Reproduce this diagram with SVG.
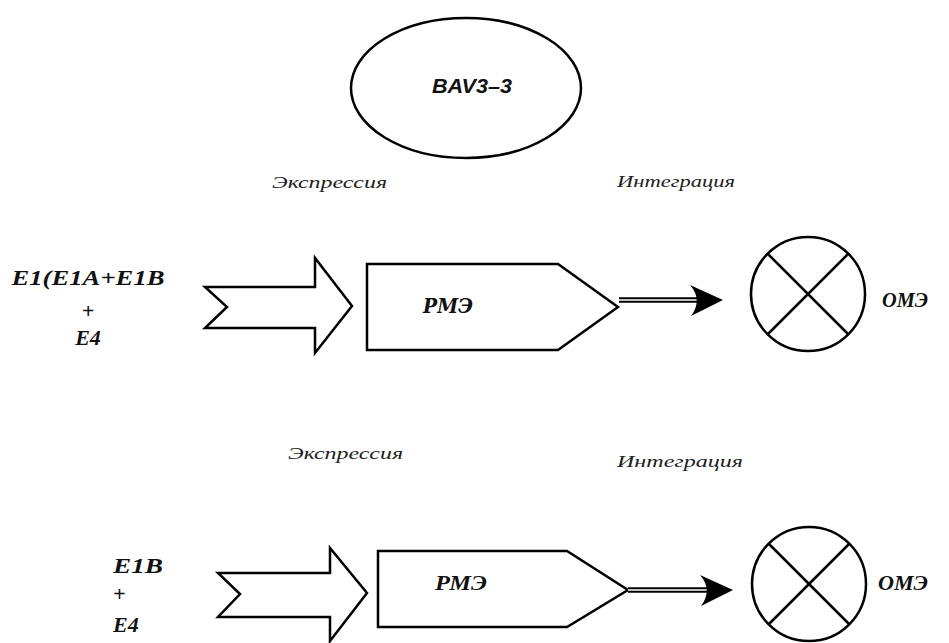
<svg xmlns="http://www.w3.org/2000/svg" width="949" height="643" viewBox="0 0 949 643">
  <style>
    .shape { fill: #fff; stroke: #000; stroke-width: 2.5; stroke-linejoin: miter; }
    .xline { stroke: #000; stroke-width: 2.5; }
    .lbl { font-style: italic; font-weight: bold; fill: #111; }
    .note { font-style: italic; font-size: 16px; fill: #222; }
    .title { font-style: italic; font-weight: bold; font-size: 21px; fill: #111; }
    .outer { stroke: #000; stroke-width: 5.5; }
    .inner { stroke: #fff; stroke-width: 1.5; }
  </style>
  <defs>
    <path id="dart" d="M0,0 L-33,-15 Q-20,0 -32,16 Z" fill="#000"/>
  </defs>

  <rect width="949" height="643" fill="#fff"/>

  <g id="bav">
    <ellipse class="shape" cx="466" cy="88" rx="115" ry="70"/>
    <text class="title" font-family="Liberation Sans, Arial, sans-serif" x="472" y="93" text-anchor="middle" textLength="80" lengthAdjust="spacingAndGlyphs">BAV3–3</text>
  </g>

  <!-- upper row -->
  <g id="top-input" font-family="Liberation Serif, Times New Roman, serif">
    <text class="lbl" x="88" y="285" font-size="22" text-anchor="middle" textLength="153" lengthAdjust="spacingAndGlyphs">E1(E1A+E1B</text>
    <text class="lbl" x="88" y="318" font-size="22" text-anchor="middle">+</text>
    <text class="lbl" x="88" y="345" font-size="22" text-anchor="middle">E4</text>
  </g>
  <g id="top-expr-arrow">
    <path class="shape" d="M205,287 L315,287 L315,258 L352,306 L315,353 L315,328 L205,328 L227,307 Z"/>
  </g>
  <g id="top-rme">
    <path class="shape" d="M367,264 L558,264 L618,307 L558,350 L367,350 Z"/>
    <text class="lbl" font-family="DejaVu Serif, serif" x="423" y="313" font-size="20" textLength="50" lengthAdjust="spacingAndGlyphs">РМЭ</text>
  </g>
  <g id="top-ome">
    <circle class="shape" cx="808" cy="294" r="57"/>
    <line class="xline" x1="768" y1="254" x2="848" y2="334"/>
    <line class="xline" x1="848" y1="254" x2="768" y2="334"/>
    <text class="lbl" font-family="serif" x="882" y="307" font-size="20" textLength="46" lengthAdjust="spacingAndGlyphs">ОМЭ</text>
  </g>
  <text class="note" font-family="Liberation Serif, serif" x="272" y="188" textLength="115" lengthAdjust="spacingAndGlyphs">Экспрессия</text>
  <text class="note" font-family="Liberation Serif, serif" x="617" y="187" textLength="118" lengthAdjust="spacingAndGlyphs">Интеграция</text>

  <!-- lower row -->
  <g id="bottom-input" font-family="Liberation Serif, serif">
    <text class="lbl" x="113" y="573" font-size="22" textLength="50" lengthAdjust="spacingAndGlyphs">E1B</text>
    <text class="lbl" x="113" y="601" font-size="22">+</text>
    <text class="lbl" x="113" y="632" font-size="22">E4</text>
  </g>
  <g id="bottom-expr-arrow">
    <path class="shape" d="M218,573 L330,573 L330,548 L367,593 L330,641 L330,617 L218,617 L240,594 Z"/>
  </g>
  <g id="bottom-rme">
    <path class="shape" d="M378,551 L567,551 L628,590 L567,627 L378,627 Z"/>
    <text class="lbl" font-family="Liberation Serif, serif" x="435" y="590" font-size="20" textLength="52" lengthAdjust="spacingAndGlyphs">РМЭ</text>
  </g>
  <g id="bottom-ome">
    <circle class="shape" cx="809" cy="584" r="57"/>
    <line class="xline" x1="769" y1="544" x2="849" y2="624"/>
    <line class="xline" x1="849" y1="544" x2="769" y2="624"/>
    <text class="lbl" font-family="Liberation Serif, serif" x="878" y="590" font-size="20" textLength="50" lengthAdjust="spacingAndGlyphs">ОМЭ</text>
  </g>
  <text class="note" font-family="Liberation Serif, serif" x="288" y="459" textLength="115" lengthAdjust="spacingAndGlyphs">Экспрессия</text>
  <text class="note" font-family="Liberation Serif, serif" x="617" y="467" textLength="126" lengthAdjust="spacingAndGlyphs">Интеграция</text>

  <!-- integration connectors: double shaft with dart head -->
  <g id="connectors">
    <line class="outer" x1="619" y1="300" x2="700" y2="300"/>
    <line class="inner" x1="619" y1="300" x2="700" y2="300"/>
    <use href="#dart" transform="translate(723,300)"/>
    <line class="outer" x1="628" y1="590" x2="710" y2="590"/>
    <line class="inner" x1="628" y1="590" x2="710" y2="590"/>
    <use href="#dart" transform="translate(733,590)"/>
  </g>
</svg>
